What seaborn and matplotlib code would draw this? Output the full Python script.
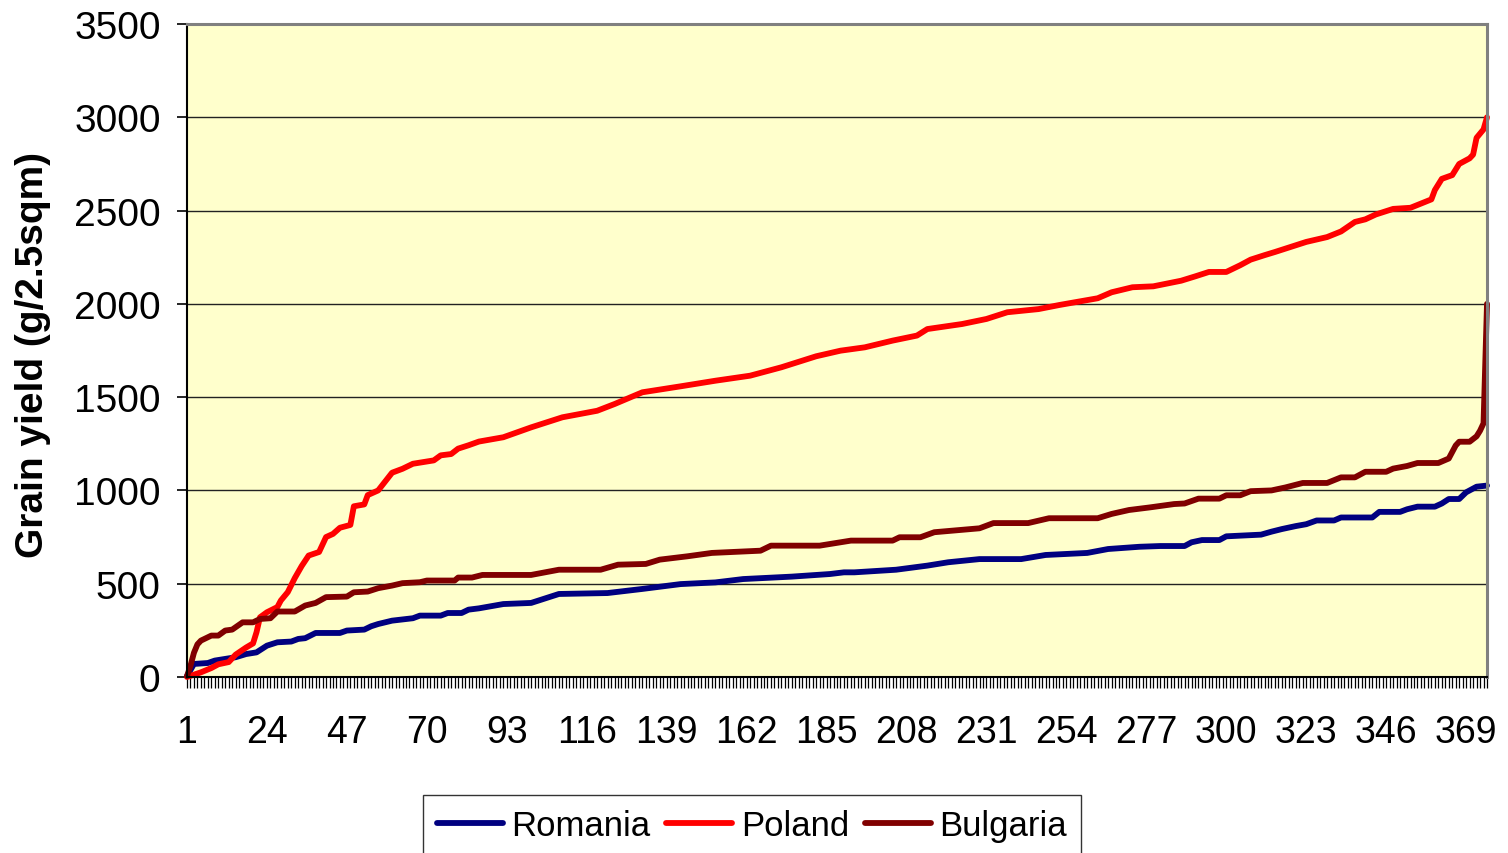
import matplotlib
matplotlib.use("Agg")
import matplotlib.pyplot as plt
from matplotlib.lines import Line2D
from matplotlib.ticker import FixedLocator, NullFormatter
import seaborn as sns
import pandas as pd

# ---- data (rank of plot, grain yield g/2.5sqm) ----
N_PLOTS = 375
x_tick_labels = list(range(1, 370, 23))
y_ticks = [0, 500, 1000, 1500, 2000, 2500, 3000, 3500]

romania_rank = [1, 3, 7, 9, 12, 15, 18, 21, 24, 27, 31, 33, 35, 38, 45, 47, 52, 54, 56, 60,
                66, 68, 74, 76, 80, 82, 85, 92, 100, 108, 122, 132, 143, 153, 161, 175, 186,
                190, 193, 205, 214, 220, 229, 241, 248, 260, 266, 275, 281, 288, 290, 293,
                298, 300, 310, 313, 316, 320, 323, 326, 331, 333, 342, 344, 350, 352, 355,
                360, 362, 364, 367, 369, 372, 375]
romania_yield = [5, 70, 75, 88, 97, 106, 123, 132, 168, 186, 190, 204, 208, 236, 236, 249, 254,
                 272, 284, 302, 315, 329, 329, 343, 343, 361, 368, 391, 397, 445, 450, 472, 498,
                 507, 525, 538, 552, 561, 561, 575, 597, 615, 632, 632, 654, 665, 686, 698, 702,
                 702, 722, 734, 734, 754, 763, 779, 793, 809, 819, 839, 839, 855, 855, 885, 885,
                 899, 913, 913, 930, 954, 954, 990, 1020, 1026]

poland_rank = [1, 5, 8, 10, 13, 15, 18, 20, 21, 22, 24, 27, 28, 30, 32, 34, 36, 39, 41, 43, 45,
               48, 49, 52, 53, 56, 60, 63, 66, 72, 74, 77, 79, 82, 85, 92, 100, 109, 119, 124,
               132, 143, 153, 163, 172, 182, 189, 196, 204, 211, 214, 224, 231, 237, 246, 252,
               263, 267, 273, 279, 287, 291, 295, 300, 304, 307, 311, 314, 319, 323, 329, 333,
               337, 340, 343, 348, 353, 357, 359, 360, 362, 365, 367, 370, 371, 372, 374, 375]
poland_yield = [0, 25, 48, 68, 80, 120, 158, 180, 240, 320, 347, 375, 410, 455, 530, 595, 651,
                670, 750, 767, 800, 815, 915, 925, 975, 1000, 1095, 1116, 1143, 1161, 1188, 1195,
                1224, 1242, 1262, 1285, 1338, 1392, 1427, 1463, 1526, 1558, 1588, 1615, 1660,
                1719, 1749, 1767, 1803, 1830, 1865, 1892, 1919, 1955, 1972, 1994, 2030, 2062,
                2089, 2094, 2124, 2147, 2171, 2171, 2207, 2237, 2261, 2278, 2308, 2332, 2358,
                2388, 2439, 2453, 2479, 2509, 2515, 2545, 2560, 2610, 2670, 2690, 2750, 2780,
                2800, 2890, 2935, 3000]

bulgaria_rank = [1, 2, 3, 4, 5, 8, 10, 12, 14, 17, 20, 22, 25, 27, 32, 35, 38, 41, 47, 49, 53,
                 56, 60, 63, 68, 70, 78, 79, 83, 86, 100, 104, 108, 120, 125, 133, 137, 145, 152,
                 166, 169, 183, 192, 204, 206, 212, 216, 229, 233, 243, 249, 263, 267, 272, 278,
                 285, 288, 292, 298, 300, 304, 307, 313, 317, 322, 329, 333, 337, 340, 346, 348,
                 352, 355, 361, 364, 366, 367, 370, 372, 373, 374, 375]
bulgaria_yield = [5, 60, 130, 175, 195, 222, 222, 249, 254, 293, 293, 311, 315, 351, 351, 383,
                  397, 428, 431, 454, 458, 476, 490, 503, 508, 517, 517, 533, 533, 547, 547, 561,
                  575, 575, 602, 606, 629, 647, 665, 677, 704, 704, 731, 731, 749, 749, 776, 797,
                  825, 825, 851, 851, 874, 895, 909, 927, 930, 956, 956, 974, 974, 996, 1000,
                  1016, 1040, 1040, 1070, 1070, 1100, 1100, 1117, 1131, 1147, 1147, 1171, 1241,
                  1261, 1261, 1290, 1320, 1360, 2000]

countries = ["Romania", "Poland", "Bulgaria"]
colors = {"Romania": "#000080", "Poland": "#FF0000", "Bulgaria": "#800000"}

frames = []
for name, r, v in [("Romania", romania_rank, romania_yield),
                   ("Poland", poland_rank, poland_yield),
                   ("Bulgaria", bulgaria_rank, bulgaria_yield)]:
    frames.append(pd.DataFrame({"country": name, "rank": r, "yield": v}))
df = pd.concat(frames, ignore_index=True)

# ---- styling ----
sns.set_style("white")
plt.rcParams["font.family"] = ["Liberation Sans", "DejaVu Sans"]
plt.rcParams["text.color"] = "black"
plt.rcParams["xtick.color"] = "black"
plt.rcParams["ytick.color"] = "black"
plt.rcParams["axes.labelcolor"] = "black"

LW = 4.2

fig = plt.figure(figsize=(15.08, 8.54), dpi=100)
ax = fig.add_axes([187 / 1508, 1 - 678 / 854, 1300 / 1508, 653 / 854])
ax.set_facecolor("#FFFFCC")

sns.lineplot(data=df, x="rank", y="yield", hue="country", hue_order=countries,
             palette=colors, linewidth=LW, legend=False, ax=ax,
             estimator=None, sort=True)
for ln in ax.lines:
    ln.set_solid_capstyle("round")
    ln.set_solid_joinstyle("round")
    ln.set_clip_on(False)

ax.set_xlim(1, N_PLOTS)
ax.set_ylim(0, 3500)

# grid
ax.set_yticks(y_ticks)
ax.yaxis.grid(True, color="#222222", linewidth=1.0)
ax.xaxis.grid(False)
ax.set_axisbelow(True)

# x ticks: a mark on every plot, labels every 23rd
ax.xaxis.set_major_locator(FixedLocator(x_tick_labels))
ax.set_xticklabels([str(v) for v in x_tick_labels])
ax.xaxis.set_minor_locator(FixedLocator(list(range(1, N_PLOTS + 1))))
ax.xaxis.set_minor_formatter(NullFormatter())
ax.tick_params(axis="x", which="both", direction="out", length=8, width=0.9,
               color="black", bottom=True)
ax.tick_params(axis="x", which="major", labelsize=27, pad=19)
ax.tick_params(axis="y", which="major", direction="out", length=7, width=1.2,
               color="black", labelsize=28, pad=12, left=True)

ax.set_xlabel("")
ax.set_ylabel("")
fig.text(33 / 1508, 1 - 355 / 854, "Grain yield (g/2.5sqm)", rotation=90,
         ha="center", va="center", fontsize=28, fontweight="bold", color="black")

for side in ["left", "bottom"]:
    ax.spines[side].set_color("black")
    ax.spines[side].set_linewidth(1.5)
for side in ["top", "right"]:
    ax.spines[side].set_color("#808080")
    ax.spines[side].set_linewidth(2.2)

handles = [Line2D([0], [0], color=colors[c], linewidth=LW, solid_capstyle="round")
           for c in countries]
leg = fig.legend(handles, countries, loc="upper center", bbox_to_anchor=(0.4985, 1 - 796 / 854),
                 ncol=3, fontsize=25, frameon=True, fancybox=False, handlelength=1.9,
                 handletextpad=0.25, columnspacing=0.45, borderpad=0.4, borderaxespad=0)
leg.get_frame().set_edgecolor("black")
leg.get_frame().set_linewidth(1.0)

fig.savefig("out.png", dpi=100, facecolor="white")
